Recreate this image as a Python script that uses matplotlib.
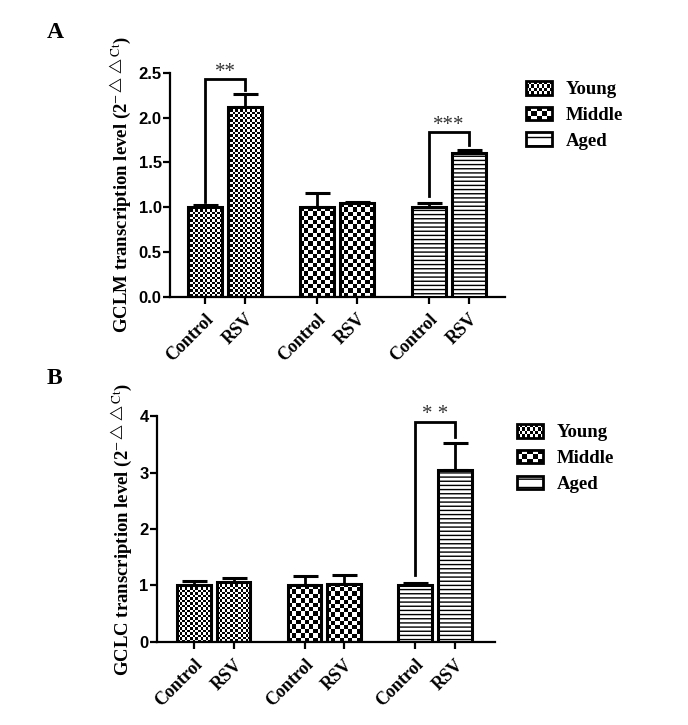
import numpy as np
import matplotlib
matplotlib.use('Agg')
import matplotlib.pyplot as plt
from matplotlib.patches import Rectangle, Patch
from matplotlib.legend_handler import HandlerBase
from matplotlib.ticker import FormatStrFormatter

plt.rcParams['mathtext.fontset'] = 'stix'

# ---- data ----
groups = ['Young', 'Middle', 'Aged']
conditions = ['Control', 'RSV']

gclm_mean = [1.00, 2.12, 1.00, 1.05, 1.00, 1.60]
gclm_err = [0.02, 0.14, 0.16, 0.01, 0.05, 0.04]
gclm_ticks = [0.0, 0.5, 1.0, 1.5, 2.0, 2.5]
# (group index, bracket top, left foot, right foot, label)
gclm_sig = [(0, 2.43, 1.06, 2.31, '**'), (2, 1.835, 1.12, 1.69, '***')]

gclc_mean = [1.00, 1.06, 1.00, 1.03, 1.00, 3.05]
gclc_err = [0.08, 0.07, 0.17, 0.15, 0.05, 0.47]
gclc_ticks = [0, 1, 2, 3, 4]
gclc_sig = [(2, 3.90, 1.19, 3.62, '* *')]

SERIF = ['Liberation Serif', 'DejaVu Serif']
SANS = ['Liberation Sans', 'DejaVu Sans']

positions = [0, 1, 2.8, 3.8, 5.6, 6.6]
bar_w = 0.85


def checker(ny, nx):
    return np.indices((ny, nx)).sum(0) % 2


def fill_checker(ax, bar, cell_px):
    ''' put a black/white checkerboard inside a bar '''
    x0, w, h = bar.get_x(), bar.get_width(), bar.get_height()
    p0 = ax.transData.transform((x0, 0))
    p1 = ax.transData.transform((x0 + w, h))
    nx = max(1, int(round(abs(p1[0] - p0[0]) / cell_px)))
    ny = max(1, int(round(abs(p1[1] - p0[1]) / cell_px)))
    im = ax.imshow(checker(ny, nx), cmap='gray', extent=(x0, x0 + w, 0, h),
                   aspect='auto', interpolation='nearest', zorder=2)
    im.set_clip_path(bar)


class CheckerHandler(HandlerBase):
    def __init__(self, nx, ny):
        super().__init__()
        self.nx, self.ny = nx, ny

    def create_artists(self, legend, orig_handle, xdescent, ydescent,
                       width, height, fontsize, trans):
        arts = [Rectangle((-xdescent, -ydescent), width, height,
                          facecolor='white', edgecolor='none', transform=trans)]
        cw, ch = width / self.nx, height / self.ny
        for i in range(self.ny):
            for j in range(self.nx):
                if (i + j) % 2 == 0:
                    arts.append(Rectangle((-xdescent + j * cw, -ydescent + i * ch),
                                          cw, ch, facecolor='black',
                                          edgecolor='none', transform=trans))
        arts.append(Rectangle((-xdescent, -ydescent), width, height,
                              facecolor='none', edgecolor='black', lw=2,
                              transform=trans))
        return arts


def panel(ax, means, errs, ticks, sig, gene, xlim, fmt, leg_anchor):
    ax.set_xlim(*xlim)
    ax.set_ylim(ticks[0], ticks[-1])

    bars = ax.bar(positions, means, width=bar_w, facecolor='none',
                  edgecolor='black', linewidth=2.2, zorder=3)
    ax.errorbar(positions, means, yerr=[np.zeros(len(errs)), errs], fmt='none',
                ecolor='black', elinewidth=2, capsize=9, capthick=2.2, zorder=2)

    cells = [2.5, 2.5, 4.2, 4.2]
    for b, c in zip(bars[:4], cells):
        fill_checker(ax, b, c)
    for b in bars[4:]:
        b.set_facecolor('white')
        b.set_hatch('----')

    for g, top, lf, rf, lab in sig:
        xl, xr = positions[2 * g], positions[2 * g + 1]
        ax.plot([xl, xl, xr, xr], [lf, top, top, rf], color='black', lw=2,
                solid_joinstyle='miter', zorder=4, clip_on=False)
        ax.annotate(lab, ((xl + xr) / 2, top), xytext=(0, 5),
                    textcoords='offset points', ha='center', va='center',
                    fontsize=15, color='#333333', family=SERIF)

    ax.set_xlim(*xlim)
    ax.set_ylim(ticks[0], ticks[-1])
    ax.set_yticks(ticks)
    ax.yaxis.set_major_formatter(FormatStrFormatter(fmt))
    ax.set_xticks(positions)
    ax.set_xticklabels(conditions * 3, rotation=45, ha='right', va='top',
                       rotation_mode='anchor', family=SERIF, fontweight='bold',
                       fontsize=13)
    for t in ax.get_yticklabels():
        t.set_family(SANS)
        t.set_fontweight('bold')
        t.set_fontsize(12)

    for s in ['top', 'right']:
        ax.spines[s].set_visible(False)
    for s in ['left', 'bottom']:
        ax.spines[s].set_linewidth(1.6)
    ax.tick_params(direction='out', length=5, width=1.6)
    ax.tick_params(axis='y', pad=1)
    ax.tick_params(axis='x', pad=5)

    ax.set_ylabel(gene + r' transcription level (2$^{-\triangle\triangle\mathrm{Ct}}$)',
                  family=SERIF, fontweight='bold', fontsize=13.5, labelpad=4)

    handles = [Patch(label=groups[0]), Patch(label=groups[1]),
               Patch(facecolor='white', edgecolor='black', lw=2, hatch='--',
                     label=groups[2])]
    ax.legend(handles=handles, loc='upper left', bbox_to_anchor=leg_anchor,
              frameon=False, borderaxespad=0, borderpad=0,
              handlelength=1.4, handleheight=0.75, handletextpad=0.7,
              labelspacing=0.45,
              prop={'family': SERIF, 'weight': 'bold', 'size': 13.5},
              handler_map={handles[0]: CheckerHandler(10, 4),
                           handles[1]: CheckerHandler(5, 3)})


fig = plt.figure(figsize=(6.88, 7.25), dpi=100)
ax_a = fig.add_axes([0.2471, 0.5908, 0.4869, 0.3086])
ax_b = fig.add_axes([0.2282, 0.1145, 0.4913, 0.3117])

panel(ax_a, gclm_mean, gclm_err, gclm_ticks, gclm_sig, 'GCLM',
      (-0.875, 7.5), '%.1f', (1.063, 0.965))
panel(ax_b, gclc_mean, gclc_err, gclc_ticks, gclc_sig, 'GCLC',
      (-0.94, 7.62), '%d', (1.065, 0.965))

fig.text(0.068, 0.955, 'A', family=SERIF, fontweight='bold', fontsize=17,
         va='center')
fig.text(0.068, 0.478, 'B', family=SERIF, fontweight='bold', fontsize=17,
         va='center')

fig.savefig('out.png', dpi=100)
